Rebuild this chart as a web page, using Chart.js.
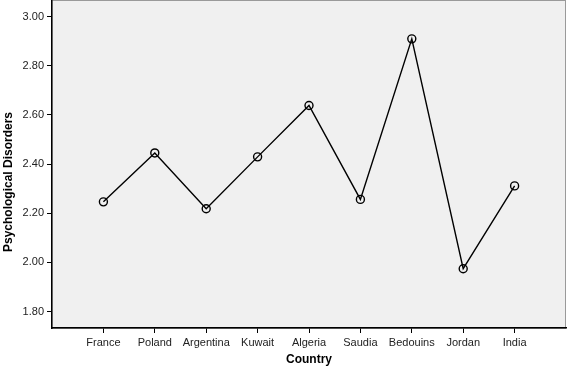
<!DOCTYPE html>
<html>
<head>
<meta charset="utf-8">
<script src="https://cdn.jsdelivr.net/npm/chart.js@4/dist/chart.umd.min.js"></script>
<style>
  html, body { margin: 0; padding: 0; background: #fff; }
  #wrap { width: 568px; height: 367px; }
</style>
</head>
<body>
<div id="wrap"><canvas id="chart1" width="568" height="367"></canvas></div>
<script>
const countries = ["France", "Poland", "Argentina", "Kuwait", "Algeria", "Saudia", "Bedouins", "Jordan", "India"];
const disorders = [2.246, 2.445, 2.218, 2.429, 2.638, 2.256, 2.909, 1.974, 2.311];
const yTicks = [1.80, 2.00, 2.20, 2.40, 2.60, 2.80, 3.00];
const yTitle = "Psychological Disorders";

const points = countries.map((c, i) => ({ x: i + 1, y: disorders[i] }));

const font = "'Liberation Sans', Arial, Helvetica, sans-serif";

// grey plot background + thin frame, and the y title (sits a bit below centre in the original)
const frame = {
  id: "frame",
  beforeDraw(chart) {
    const a = chart.chartArea, ctx = chart.ctx;
    ctx.save();
    ctx.fillStyle = "#f0f0f0";
    ctx.fillRect(a.left, a.top, a.right - a.left, a.bottom - a.top);
    ctx.strokeStyle = "#9a9a9a";
    ctx.lineWidth = 1;
    ctx.strokeRect(a.left, a.top + 0.5, a.right - a.left - 0.5, a.bottom - a.top);
    ctx.restore();
  },
  afterDraw(chart) {
    const ctx = chart.ctx, a = chart.chartArea;
    ctx.save();
    ctx.translate(9, (a.top + a.bottom) / 2 + 18);
    ctx.rotate(-Math.PI / 2);
    ctx.font = "bold 12px " + font;
    ctx.fillStyle = "#000";
    ctx.textAlign = "center";
    ctx.textBaseline = "middle";
    ctx.fillText(yTitle, 0, 0);
    ctx.restore();
  }
};

new Chart(document.getElementById("chart1").getContext("2d"), {
  type: "line",
  data: {
    datasets: [{
      data: points,
      borderColor: "#000",
      borderWidth: 1.4,
      tension: 0,
      pointRadius: 4,
      pointBorderWidth: 1.4,
      pointBorderColor: "#000",
      pointBackgroundColor: "rgba(0,0,0,0)"
    }]
  },
  options: {
    responsive: false,
    animation: false,
    layout: { autoPadding: false, padding: { top: 0, right: 2, left: 0, bottom: 0 } },
    plugins: { legend: { display: false }, tooltip: { enabled: false } },
    scales: {
      x: {
        type: "linear",
        min: 0,
        max: 10,
        afterBuildTicks: (s) => { s.ticks = countries.map((c, i) => ({ value: i + 1 })); },
        afterFit: (s) => { s.height = 39; s.paddingLeft = 0; s.paddingRight = 0; },
        ticks: {
          autoSkip: false,
          maxRotation: 0,
          padding: 3,
          color: "#222",
          font: { family: font, size: 11 },
          callback: (v) => countries[v - 1]
        },
        grid: { drawOnChartArea: false, color: "#000", tickLength: 5, tickWidth: 1 },
        border: { color: "#000", width: 1.5 },
        title: {
          display: true,
          text: "Country",
          color: "#000",
          padding: { top: 1, bottom: 0 },
          font: { family: font, size: 12, weight: "bold" }
        }
      },
      y: {
        type: "linear",
        min: 1.733,
        max: 3.067,
        afterBuildTicks: (s) => { s.ticks = yTicks.map(v => ({ value: v })); },
        afterFit: (s) => { s.width = 52; s.paddingTop = 0; s.paddingBottom = 0; },
        ticks: {
          padding: 3,
          color: "#222",
          font: { family: font, size: 11 },
          callback: (v) => v.toFixed(2)
        },
        grid: { drawOnChartArea: false, color: "#000", tickLength: 5, tickWidth: 1 },
        border: { color: "#000", width: 1.5 },
        title: { display: false }
      }
    }
  },
  plugins: [frame]
});
</script>
</body>
</html>
